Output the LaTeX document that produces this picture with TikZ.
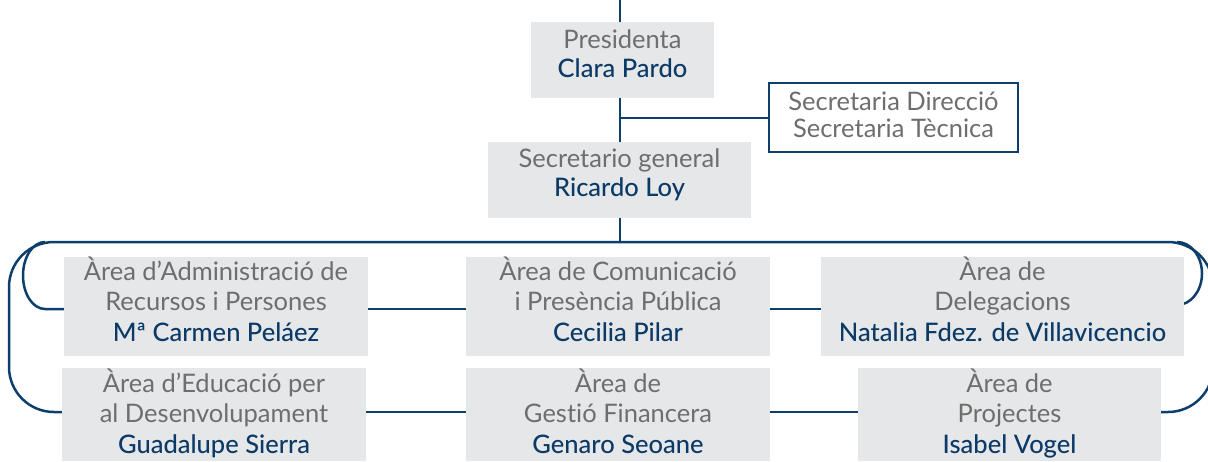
\documentclass[tikz,border=0pt]{standalone}
\usepackage{fontspec}
\setmainfont{Lato}[Ligatures={NoCommon}]
\newfontfamily\namefont{Lato Medium}[Ligatures={NoCommon}]
\usetikzlibrary{backgrounds}
\definecolor{lineblue}{HTML}{0E3F6C}
\definecolor{nameblue}{HTML}{0B3A66}
\definecolor{txtgray}{HTML}{6E6E6E}
\definecolor{boxgray}{HTML}{E6E7E8}
\newcommand\pname[1]{{\namefont\color{nameblue}#1}}
\begin{document}
\begin{tikzpicture}[x=1pt,y=-1pt,
  box/.style={fill=boxgray, inner sep=0pt, align=center, text=txtgray,
    font=\fontsize{25.5}{30.5}\selectfont},
  topbox/.style={box, font=\fontsize{25.5}{29.5}\selectfont, minimum height=76pt, text height=47.5pt},
  rowone/.style={box, minimum height=99pt, text height=79pt, text depth=10pt},
  rowtwo/.style={box, minimum height=93pt, text height=79pt, text depth=2pt},
  link/.style={draw=lineblue, line width=2.5pt},
]
\useasboundingbox (0,0) rectangle (1208,461);
% boxes
\node[topbox, minimum width=183pt, text depth=12.5pt] (pres) at (622.5,60) {Presidenta\\\pname{Clara Pardo}};
\node[box, fill=white, draw=lineblue, line width=1.2pt, font=\fontsize{25.5}{27}\selectfont,
  minimum width=249pt, minimum height=69pt, text height=45pt, text depth=6pt] (sec) at (893.5,117.5) {Secretaria Direcció\\Secretaria Tècnica};
\node[topbox, minimum width=263pt, text depth=14.5pt] (sg) at (619.5,180) {Secretario general\\\pname{Ricardo Loy}};
\node[rowone, minimum width=304pt] (adm) at (216,306.5) {Àrea d’Administració de\\Recursos i Persones\\\pname{Mª Carmen Peláez}};
\node[rowone, minimum width=304pt] (com) at (618,306.5) {Àrea de Comunicació\\i Presència Pública\\\pname{Cecilia Pilar}};
\node[rowone, minimum width=363pt] (del) at (1002.5,306.5) {Àrea de\\Delegacions\\\pname{Natalia Fdez. de Villavicencio}};
\node[rowtwo, minimum width=304pt] (edu) at (214,414.5) {Àrea d’Educació per\\al Desenvolupament\\\pname{Guadalupe Sierra}};
\node[rowtwo, minimum width=304pt] (ges) at (618,414.5) {Àrea de\\Gestió Financera\\\pname{Genaro Seoane}};
\node[rowtwo, minimum width=303pt] (pro) at (1009.5,414.5) {Àrea de\\Projectes\\\pname{Isabel Vogel}};
% coordinates
\coordinate (top) at (620,0);
\coordinate (branch) at (620,118);
\coordinate (bus) at (620,242);
\coordinate (r1) at (0,309);
\coordinate (r2) at (0,412);
\begin{pgfonlayer}{background}
\draw[link] (top) -- (top |- pres.north);
\draw[link] (pres.south -| top) -- (sg.north -| top);
\draw[link] (branch) -- (sec.west |- branch);
\draw[link] (sg.south -| top) -- (bus);
% outer loop
\draw[link, rounded corners=45pt] (edu.west |- r2) -- (9,412) -- (9,242) -- (1213,242) -- (1213,412) -- (pro.east |- r2);
% inner loops
\draw[link] (45,242) arc[start angle=270, end angle=90, x radius=22, y radius=33.5] -- (adm.west |- r1);
\draw[link] (1177,242) arc[start angle=270, end angle=450, x radius=25, y radius=31.5];
% row connectors
\draw[link] (adm.east |- r1) -- (com.west |- r1);
\draw[link] (com.east |- r1) -- (del.west |- r1);
\draw[link] (edu.east |- r2) -- (ges.west |- r2);
\draw[link] (ges.east |- r2) -- (pro.west |- r2);
\end{pgfonlayer}
\end{tikzpicture}
\end{document}
